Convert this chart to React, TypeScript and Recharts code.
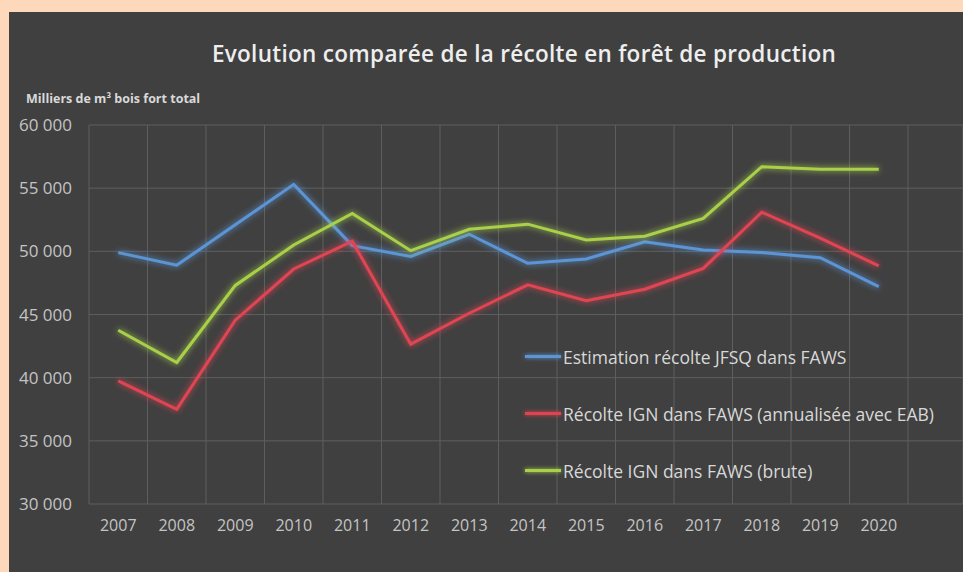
import React from "react";
import { LineChart, Line, XAxis, YAxis, CartesianGrid, Legend } from "recharts";

const years = [2007, 2008, 2009, 2010, 2011, 2012, 2013, 2014, 2015, 2016, 2017, 2018, 2019, 2020];
const jfsq = [49900, 48900, 52100, 55300, 50450, 49600, 51350, 49050, 49400, 50750, 50100, 49900, 49500, 47200];
const ignAnnual = [39750, 37500, 44550, 48600, 50800, 42650, 45100, 47350, 46100, 47000, 48650, 53100, 51050, 48850];
const ignBrute = [43750, 41200, 47300, 50500, 53000, 50050, 51750, 52150, 50900, 51200, 52600, 56700, 56500, 56500];
const yTicks = [30000, 35000, 40000, 45000, 50000, 55000, 60000];

const seriesNames = [
  "Estimation récolte JFSQ dans FAWS",
  "Récolte IGN dans FAWS (annualisée avec EAB)",
  "Récolte IGN dans FAWS (brute)",
];

const data = years.map((year, i) => ({
  year,
  jfsq: jfsq[i],
  ignAnnual: ignAnnual[i],
  ignBrute: ignBrute[i],
}));

// grid lines sit between the years, like a category axis
const gridTicks = [...years.map((y) => y - 0.5), years[years.length - 1] + 0.5];
const xDomain = [2006.5, 2021.44];

const FONT = "'Open Sans', sans-serif";

const fmt = (v: number) => {
  const s = String(v);
  return s.slice(0, s.length - 3) + " " + s.slice(-3);
};

const LegendBox = (props: any) => {
  const items = props.payload || [];
  return (
    <div style={{ fontFamily: FONT }}>
      {items.map((it: any, i: number) => (
        <div key={i} style={{ display: "flex", alignItems: "center", height: 57 }}>
          <span
            style={{
              display: "inline-block",
              width: 36,
              height: 3,
              background: it.color,
              boxShadow: `0 0 4px ${it.color}`,
              marginRight: 2,
            }}
          />
          <span style={{ color: "#d8d8d8", fontSize: 17.5 }}>{it.value}</span>
        </div>
      ))}
    </div>
  );
};

export default function App() {
  return (
    <div style={{ position: "fixed", left: 0, top: 0, width: 963, height: 572, background: "#fdd8bb", overflow: "hidden" }}>
      <div style={{ position: "absolute", left: 9, top: 12, width: 954, height: 560, background: "#404040" }}>
        <div
          style={{
            position: "absolute",
            left: 515,
            top: 26,
            transform: "translateX(-50%)",
            whiteSpace: "nowrap",
            fontFamily: FONT,
            fontSize: 22.5,
            fontWeight: 600,
            letterSpacing: 0.3,
            color: "#eeeeee",
          }}
        >
          Evolution comparée de la récolte en forêt de production
        </div>
        <div
          style={{
            position: "absolute",
            left: 17,
            top: 78,
            whiteSpace: "nowrap",
            fontFamily: FONT,
            fontSize: 12.5,
            fontWeight: 700,
            color: "#d9d9d9",
          }}
        >
          Milliers de m³ bois fort total
        </div>
        <LineChart width={954} height={560} data={data} margin={{ top: 113, right: 0, bottom: 38, left: 0 }}>
          <defs>
            <filter id="glow" x="-10%" y="-10%" width="120%" height="120%">
              <feGaussianBlur stdDeviation="3" result="blur" />
              <feMerge>
                <feMergeNode in="blur" />
                <feMergeNode in="SourceGraphic" />
              </feMerge>
            </filter>
          </defs>
          <CartesianGrid xAxisId="grid" stroke="#5e5e5e" strokeWidth={1} />
          <XAxis xAxisId="grid" type="number" dataKey="year" domain={xDomain} ticks={gridTicks} allowDataOverflow hide />
          <XAxis
            type="number"
            dataKey="year"
            domain={xDomain}
            ticks={years}
            allowDataOverflow
            axisLine={false}
            tickLine={false}
            tickSize={0}
            tickMargin={16}
            tick={{ fill: "#c4c4c4", fontSize: 16, fontFamily: FONT }}
          />
          <YAxis
            domain={[30000, 60000]}
            ticks={yTicks}
            width={80}
            axisLine={false}
            tickLine={false}
            tickSize={0}
            tickMargin={17}
            tickFormatter={fmt}
            tick={{ fill: "#c4c4c4", fontSize: 17, fontFamily: FONT }}
          />
          <Legend
            layout="vertical"
            align="center"
            verticalAlign="middle"
            content={LegendBox}
            wrapperStyle={{ left: 516, top: 316, width: 430 }}
          />
          <Line xAxisId={0} dataKey="jfsq" name={seriesNames[0]} stroke="#5b95d6" strokeWidth={3} dot={false} filter="url(#glow)" isAnimationActive={false} />
          <Line xAxisId={0} dataKey="ignAnnual" name={seriesNames[1]} stroke="#e04452" strokeWidth={3} dot={false} filter="url(#glow)" isAnimationActive={false} />
          <Line xAxisId={0} dataKey="ignBrute" name={seriesNames[2]} stroke="#a9d049" strokeWidth={3} dot={false} filter="url(#glow)" isAnimationActive={false} />
        </LineChart>
      </div>
    </div>
  );
}
